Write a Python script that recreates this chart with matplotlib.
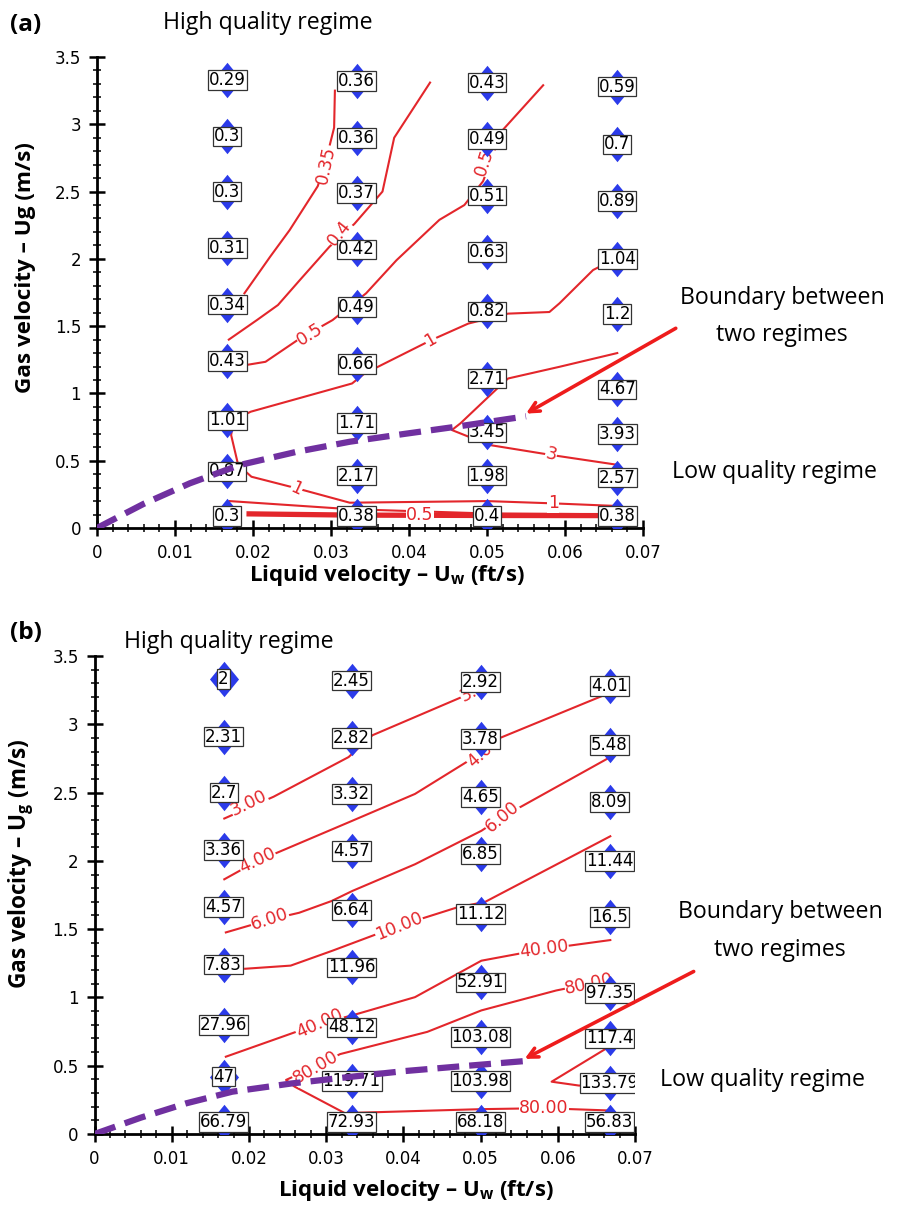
import matplotlib
matplotlib.use('Agg')
import matplotlib.pyplot as plt
from matplotlib.ticker import MultipleLocator

plt.rcParams['mathtext.fontset'] = 'custom'
plt.rcParams['mathtext.rm'] = 'Open Sans:bold'
plt.rcParams['mathtext.default'] = 'rm'

# measurement grid (liquid velocity columns, gas velocity per column)
uw_cols = [0.0167, 0.0333, 0.05, 0.0667]
ug_c1 = [3.33, 2.91, 2.50, 2.08, 1.66, 1.24, 0.80, 0.42, 0.09]
ug_c2 = [3.32, 2.90, 2.49, 2.07, 1.64, 1.22, 0.78, 0.39, 0.09]
ug_c3 = [3.31, 2.89, 2.47, 2.05, 1.61, 1.11, 0.71, 0.39, 0.09]
ug_c4 = [3.28, 2.85, 2.43, 2.00, 1.59, 1.03, 0.70, 0.375, 0.09]

# panel (a) values
a_c1 = [0.29, 0.3, 0.3, 0.31, 0.34, 0.43, 1.01, 0.87, 0.3]
a_c2 = [0.36, 0.36, 0.37, 0.42, 0.49, 0.66, 1.71, 2.17, 0.38]
a_c3 = [0.43, 0.49, 0.51, 0.63, 0.82, 2.71, 3.45, 1.98, 0.4]
a_c4 = [0.59, 0.7, 0.89, 1.04, 1.2, 4.67, 3.93, 2.57, 0.38]

# panel (b) values
b_c1 = [2, 2.31, 2.7, 3.36, 4.57, 7.83, 27.96, 47, 66.79]
b_c2 = [2.45, 2.82, 3.32, 4.57, 6.64, 11.96, 48.12, 119.71, 72.93]
b_c3 = [2.92, 3.78, 4.65, 6.85, 11.12, 52.91, 103.08, 103.98, 68.18]
b_c4 = [4.01, 5.48, 8.09, 11.44, 16.5, 97.35, 117.4, 133.79, 56.83]

# contour traces (uw, ug)
a_line_035 = [(0.0305, 3.25), (0.0304, 2.975), (0.0293, 2.72), (0.0283, 2.54), (0.0247, 2.214),
              (0.0222, 2.016), (0.0189, 1.744)]
a_line_04 = [(0.0169, 1.40), (0.0205, 1.545), (0.0232, 1.657), (0.026, 1.842), (0.0298, 2.09),
             (0.033, 2.26), (0.0366, 2.50), (0.0381, 2.90), (0.0427, 3.31)]
a_line_05 = [(0.0190, 1.21), (0.0216, 1.235), (0.0258, 1.40), (0.0302, 1.545), (0.0345, 1.744),
             (0.0384, 1.99), (0.0439, 2.29), (0.0471, 2.40), (0.0495, 2.577), (0.0519, 2.95),
             (0.0572, 3.29)]
a_line_1 = [(0.0664, 2.0), (0.0636, 1.917), (0.0593, 1.67), (0.058, 1.605), (0.0527, 1.593),
            (0.0476, 1.519), (0.0428, 1.395), (0.0343, 1.148), (0.0327, 1.074), (0.0197, 0.864),
            (0.0175, 0.80), (0.0172, 0.69), (0.0181, 0.468), (0.0198, 0.381), (0.0256, 0.295),
            (0.0324, 0.188), (0.05, 0.20), (0.0585, 0.183), (0.0669, 0.163)]
a_line_3 = [(0.0667, 1.30), (0.0593, 1.198), (0.0527, 1.111), (0.0511, 1.025), (0.0466, 0.778),
            (0.0455, 0.728), (0.0503, 0.617), (0.0582, 0.543), (0.0669, 0.468)]
a_line_low = [(0.017, 0.20), (0.0324, 0.14), (0.05, 0.108), (0.0667, 0.102)]
a_line_05b = [(0.0195, 0.105), (0.0324, 0.096), (0.05, 0.093), (0.0667, 0.092)]
a_boundary = [(0, 0), (0.006, 0.18), (0.0119, 0.332), (0.0183, 0.468), (0.0255, 0.565),
              (0.0324, 0.641), (0.0395, 0.70), (0.0461, 0.753), (0.055, 0.83)]

b_line_3 = [(0.0168, 2.31), (0.0232, 2.47), (0.0329, 2.76), (0.036, 2.92), (0.048, 3.21), (0.0495, 3.25)]
b_line_4 = [(0.0168, 1.865), (0.0211, 2.0), (0.0232, 2.049), (0.0334, 2.294), (0.0415, 2.49),
            (0.0485, 2.735), (0.0504, 2.797), (0.0523, 2.895), (0.0665, 3.225)]
b_line_6 = [(0.017, 1.476), (0.0227, 1.57), (0.0265, 1.62), (0.0307, 1.706), (0.0334, 1.78),
            (0.0415, 1.975), (0.0501, 2.22), (0.0528, 2.32), (0.0668, 2.76)]
b_line_10 = [(0.0195, 1.21), (0.0254, 1.233), (0.0308, 1.342), (0.0394, 1.524), (0.0469, 1.658),
             (0.0506, 1.70), (0.0668, 2.18)]
b_line_40 = [(0.017, 0.566), (0.0291, 0.808), (0.0334, 0.869), (0.0415, 1.002), (0.0501, 1.269),
             (0.0582, 1.354), (0.0668, 1.42)]
b_line_80 = [(0.0641, 1.10), (0.0598, 1.051), (0.0501, 0.905), (0.0431, 0.748), (0.0318, 0.585),
             (0.0286, 0.493), (0.0248, 0.396), (0.0259, 0.347), (0.0324, 0.153), (0.0501, 0.182),
             (0.0582, 0.189), (0.0668, 0.172)]
b_line_hi = [(0.0661, 0.62), (0.0592, 0.383), (0.0627, 0.355), (0.0650, 0.35)]
b_boundary = [(0, 0), (0.006, 0.12), (0.0119, 0.225), (0.01785, 0.31), (0.0255, 0.37),
              (0.0334, 0.42), (0.04, 0.46), (0.0469, 0.493), (0.0557, 0.534)]

RED = '#e3262b'
BLUE = '#2b3bea'
PURPLE = '#7030a0'
NUM_FONT = ['DejaVu Sans']
TXT_FONT = ['Open Sans', 'DejaVu Sans']
DIAMOND = [(0, 1), (0.82, 0), (0, -1), (-0.82, 0), (0, 1)]

W, H = 898, 1209
fig = plt.figure(figsize=(W / 100, H / 100), dpi=100)
to_fit = []  # (text, target pixels, 'w' or 'h')


def px_text(x, y, s, target=None, **kw):
    t = fig.text(x / W, 1 - y / H, s, family=TXT_FONT, **kw)
    if target:
        to_fit.append((t, target, 'w'))
    return t


def draw_line(ax, pts, lw=1.5):
    xs = [p[0] for p in pts]
    ys = [p[1] for p in pts]
    ax.plot(xs, ys, color=RED, lw=lw, zorder=2, solid_joinstyle='round')


def clabel(ax, x, y, s, rot=0):
    ax.text(x, y, s, color=RED, fontsize=12.5, family=NUM_FONT, rotation=rot,
            ha='center', va='center', rotation_mode='anchor', zorder=3,
            bbox=dict(facecolor='white', edgecolor='none', pad=0.2))


def setup(ax):
    ax.set_xlim(0, 0.07)
    ax.set_ylim(0, 3.5)
    for s in ['top', 'right']:
        ax.spines[s].set_visible(False)
    for s in ['left', 'bottom']:
        ax.spines[s].set_linewidth(2)
    ax.xaxis.set_major_locator(MultipleLocator(0.01))
    ax.xaxis.set_minor_locator(MultipleLocator(0.002))
    ax.yaxis.set_major_locator(MultipleLocator(0.5))
    ax.yaxis.set_minor_locator(MultipleLocator(0.1))
    ax.tick_params(which='major', direction='inout', length=11, width=1.8, labelsize=12, pad=6)
    ax.tick_params(which='minor', direction='inout', length=6, width=1.1)
    ax.xaxis.set_major_formatter(plt.FuncFormatter(lambda v, p: f'{v:.2f}'.rstrip('0').rstrip('.') if v else '0'))
    ax.yaxis.set_major_formatter(plt.FuncFormatter(lambda v, p: f'{v:g}'))
    for lab in ax.get_xticklabels() + ax.get_yticklabels():
        lab.set_family(NUM_FONT)


def draw_points(ax, cols):
    ug_cols = [ug_c1, ug_c2, ug_c3, ug_c4]
    for uw, ugs, vals in zip(uw_cols, ug_cols, cols):
        ax.plot([uw] * len(ugs), ugs, linestyle='none', marker=DIAMOND, markersize=25.5,
                markeredgewidth=0, color=BLUE, zorder=4)
        for ug, v in zip(ugs, vals):
            t = ax.text(uw, ug, f'{v:g}', fontsize=12, family=NUM_FONT, ha='center', va='center',
                        zorder=5, bbox=dict(facecolor='white', edgecolor='#333333', lw=0.9, pad=0.6))
            t.set_clip_on(True)


def labels(ax, ylab, yx, yy, xx, xy):
    ax.set_ylabel(ylab, family=TXT_FONT, fontweight='bold', fontsize=15)
    ax.yaxis.set_label_coords(yx, yy)
    ax.set_xlabel('Liquid velocity – U$_{w}$ (ft/s)', family=TXT_FONT, fontweight='bold', fontsize=15)
    ax.xaxis.set_label_coords(xx, xy)
    to_fit.append((ax.yaxis.label, 251, 'h'))
    to_fit.append((ax.xaxis.label, 276, 'w'))


def arrow(ax, head, tail):
    ax.annotate('', xy=head, xytext=tail, annotation_clip=False,
                arrowprops=dict(arrowstyle='->,head_length=0.7,head_width=0.35', color='#ee1c1c',
                                lw=2.6, shrinkA=0, shrinkB=0), zorder=7)


# ---------------- panel (a)
ax1 = fig.add_axes([97 / W, 1 - 528 / H, 546 / W, 471 / H])
setup(ax1)
draw_points(ax1, [a_c1, a_c2, a_c3, a_c4])
for pts in [a_line_035, a_line_04, a_line_05, a_line_1, a_line_3, a_line_low]:
    draw_line(ax1, pts)
draw_line(ax1, a_line_05b, lw=3.8)
clabel(ax1, 0.0293, 2.70, '0.35', 78)
clabel(ax1, 0.0311, 2.19, '0.4', 52)
clabel(ax1, 0.0273, 1.44, '0.5', 32)
clabel(ax1, 0.0497, 2.72, '0.5', 72)
clabel(ax1, 0.0428, 1.395, '1', 30)
clabel(ax1, 0.0256, 0.295, '1', -25)
clabel(ax1, 0.0585, 0.183, '1', 0)
clabel(ax1, 0.0582, 0.543, '3', -14)
clabel(ax1, 0.0414, 0.097, '0.5', 0)
ax1.plot([p[0] for p in a_boundary], [p[1] for p in a_boundary], color=PURPLE, lw=4.5,
         dashes=(3.5, 1.6), zorder=6)
arrow(ax1, (0.055, 0.85), (0.0742, 1.484))
labels(ax1, 'Gas velocity – Ug (m/s)', -0.112, 0.554, 0.531, -0.074)

px_text(10, 25, '(a)', target=31, fontsize=16, fontweight='bold', va='center')
px_text(163, 23, 'High quality regime', target=210, fontsize=14.5, va='center')
px_text(782, 298, 'Boundary between', target=205, fontsize=14.5, va='center', ha='center')
px_text(782, 335, 'two regimes', target=132, fontsize=14.5, va='center', ha='center')
px_text(775, 472, 'Low quality regime', target=205, fontsize=14.5, va='center', ha='center')

# ---------------- panel (b)
ax2 = fig.add_axes([94.6 / W, 1 - 1134 / H, 540.4 / W, 478 / H])
setup(ax2)
draw_points(ax2, [b_c1, b_c2, b_c3, b_c4])
for pts in [b_line_3, b_line_4, b_line_6, b_line_10, b_line_40, b_line_80, b_line_hi]:
    draw_line(ax2, pts)
clabel(ax2, 0.0200, 2.42, '3.00', 26)
clabel(ax2, 0.0497, 3.26, '3.00', 28)
clabel(ax2, 0.0211, 2.00, '4.00', 25)
clabel(ax2, 0.0504, 2.80, '4.00', 42)
clabel(ax2, 0.0227, 1.57, '6.00', 18)
clabel(ax2, 0.0528, 2.32, '6.00', 40)
clabel(ax2, 0.0394, 1.524, '10.00', 22)
clabel(ax2, 0.0291, 0.81, '40.00', 24)
clabel(ax2, 0.0582, 1.354, '40.00', 7)
clabel(ax2, 0.0641, 1.10, '80.00', 12)
clabel(ax2, 0.0286, 0.49, '80.00', 30)
clabel(ax2, 0.0582, 0.19, '80.00', 0)
ax2.plot([p[0] for p in b_boundary], [p[1] for p in b_boundary], color=PURPLE, lw=4.5,
         dashes=(3.5, 1.6), zorder=6)
arrow(ax2, (0.0557, 0.55), (0.0776, 1.19))
labels(ax2, 'Gas velocity – U$_{g}$ (m/s)', -0.108, 0.565, 0.595, -0.092)

px_text(10, 633, '(b)', target=32, fontsize=16, fontweight='bold', va='center')
px_text(124, 642, 'High quality regime', target=210, fontsize=14.5, va='center')
px_text(780, 912, 'Boundary between', target=205, fontsize=14.5, va='center', ha='center')
px_text(780, 950, 'two regimes', target=132, fontsize=14.5, va='center', ha='center')
px_text(762, 1080, 'Low quality regime', target=205, fontsize=14.5, va='center', ha='center')

# size the main texts to the measured extents of the reference
fig.canvas.draw()
renderer = fig.canvas.get_renderer()
for t, target, dim in to_fit:
    bb = t.get_window_extent(renderer)
    cur = bb.width if dim == 'w' else bb.height
    t.set_fontsize(t.get_fontsize() * target / cur)

fig.savefig('out.png', dpi=100)
